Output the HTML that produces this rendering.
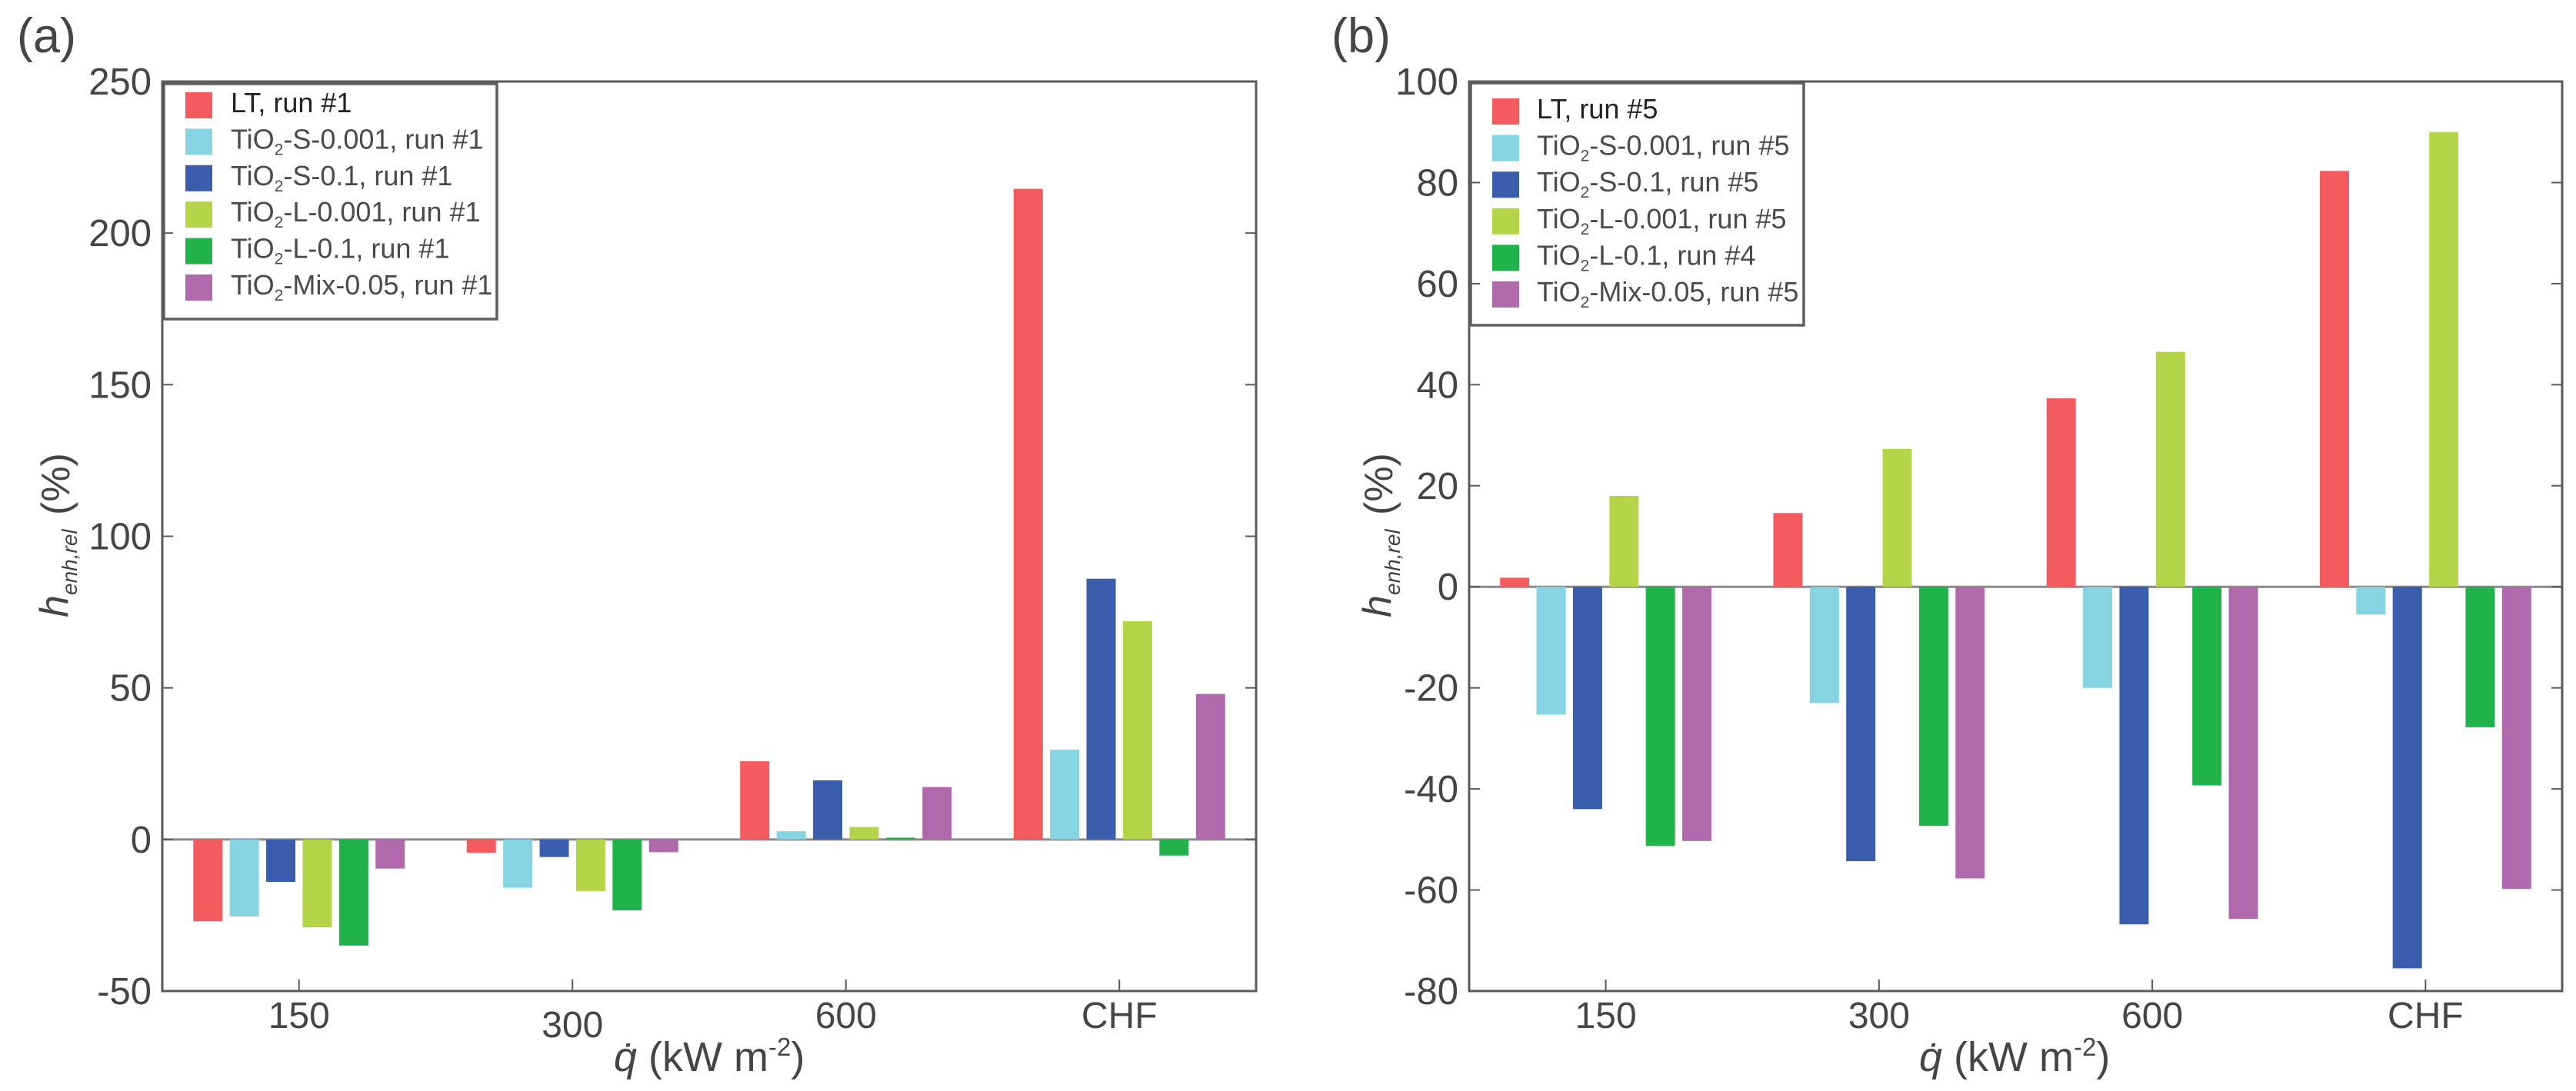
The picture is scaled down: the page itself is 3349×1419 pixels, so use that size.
<!DOCTYPE html>
<html lang="en">
<head>
<meta charset="utf-8">
<title>Relative heat transfer enhancement charts</title>
<style>
html,body{margin:0;padding:0;background:#fff;}
body{width:3349px;height:1419px;overflow:hidden;}
svg{display:block;font-family:"Liberation Sans",sans-serif;}
</style>
</head>
<body>
<svg id="figure" xmlns="http://www.w3.org/2000/svg" width="3349" height="1419" viewBox="0 0 3349 1419"></svg>
<script>
const categories = ['150', '300', '600', 'CHF'];
const seriesColors = ['#f25c5f', '#86d3e2', '#3a5eab', '#b4d44a', '#22b24c', '#b06aab'];
const seriesKeys = ['lt', 'tio2-s-0001', 'tio2-s-01', 'tio2-l-0001', 'tio2-l-01', 'tio2-mix-005'];

const panelATicks = [250, 200, 150, 100, 50, 0, -50];
const panelALegend = ['LT, run #1', '-S-0.001, run #1', '-S-0.1, run #1', '-L-0.001, run #1', '-L-0.1, run #1', '-Mix-0.05, run #1'];
const panelA_LT = [-27.0, -4.4, 25.8, 214.6];
const panelA_S0001 = [-25.4, -15.9, 2.7, 29.6];
const panelA_S01 = [-14.0, -5.8, 19.5, 86.0];
const panelA_L0001 = [-29.0, -17.0, 4.1, 72.0];
const panelA_L01 = [-35.0, -23.4, 0.6, -5.3];
const panelA_Mix = [-9.6, -4.2, 17.3, 48.0];

const panelBTicks = [100, 80, 60, 40, 20, 0, -20, -40, -60, -80];
const panelBLegend = ['LT, run #5', '-S-0.001, run #5', '-S-0.1, run #5', '-L-0.001, run #5', '-L-0.1, run #4', '-Mix-0.05, run #5'];
const panelB_LT = [1.8, 14.6, 37.3, 82.3];
const panelB_S0001 = [-25.3, -23.0, -20.0, -5.5];
const panelB_S01 = [-44.0, -54.3, -66.8, -75.5];
const panelB_L0001 = [18.0, 27.3, 46.5, 90.0];
const panelB_L01 = [-51.3, -47.3, -39.3, -27.8];
const panelB_Mix = [-50.3, -57.7, -65.7, -59.8];

const svg = document.getElementById('figure');
const NS = 'http://www.w3.org/2000/svg';

function make(tag, attrs, parent) {
  const el = document.createElementNS(NS, tag);
  for (const k in attrs) el.setAttribute(k, attrs[k]);
  parent.appendChild(el);
  return el;
}

function drawPanel(p) {
  const g = make('g', {}, svg);
  
  

  const ticks = p.ticks;
  const yMax = Math.max.apply(null, ticks);
  const yMin = Math.min.apply(null, ticks);
  const top = 106, bottom = 1289;
  const y = function (v) { return bottom - (v - yMin) / (yMax - yMin) * (bottom - top); };
  const groupW = (p.right - p.left) / categories.length;
  const xc = function (i) { return p.left + groupW * (i + 0.5); };
  const barPitch = groupW / 7.5;
  const barW = 38;

  // panel letter
  const letter = make('text', {x: p.letterX, y: 68, 'font-size': 63, fill: '#454545'}, g);
  letter.textContent = '(' + p.id + ')';
  
  

  // legend box
  const box = make('rect', {x: p.legend.x, y: p.legend.y, width: p.legend.w, height: p.legend.h, fill: '#fff', stroke: '#5e5e5e', 'stroke-width': 3.5}, g);
  
  

  // zero line
  const zero = make('line', {x1: p.left, x2: p.right, y1: y(0), y2: y(0), stroke: '#8a8a8a', 'stroke-width': 3}, g);
  
  

  // bars
  p.series.forEach(function (vals, s) {
    vals.forEach(function (v, i) {
      const x = xc(i) + (s - 2.5) * barPitch - barW / 2;
      const y0 = y(0), y1 = y(v);
      const bar = make('rect', {x: x, y: Math.min(y0, y1), width: barW, height: Math.abs(y1 - y0), fill: seriesColors[s]}, g);
      
      
    });
  });

  // axes frame
  const frame = make('rect', {x: p.left, y: top, width: p.right - p.left, height: bottom - top, fill: 'none', stroke: '#5a5a5a', 'stroke-width': 3}, g);
  
  

  // y ticks and labels
  ticks.forEach(function (t) {
    if (t !== yMax && t !== yMin) {
      const tl = make('line', {x1: p.left, x2: p.left + 14, y1: y(t), y2: y(t), stroke: '#5a5a5a', 'stroke-width': 2}, g);
      
      
      const tr = make('line', {x1: p.right - 14, x2: p.right, y1: y(t), y2: y(t), stroke: '#5a5a5a', 'stroke-width': 2}, g);
      
      
    }
    const lab = make('text', {x: p.left - 14, y: y(t) + 17, 'font-size': 49, fill: '#454545', 'text-anchor': 'end'}, g);
    lab.textContent = String(t);
    
    
  });

  // x ticks and labels
  categories.forEach(function (c, i) {
    const tk = make('line', {x1: xc(i), x2: xc(i), y1: bottom - 15, y2: bottom, stroke: '#5a5a5a', 'stroke-width': 2}, g);
    
    
    const lab = make('text', {x: xc(i), y: 1337 + (p.xLabelDrop[i] || 0), 'font-size': 48, fill: '#454545', 'text-anchor': 'middle'}, g);
    lab.textContent = c;
    
    
  });

  // x axis title
  const xt = make('text', {x: p.xTitleX, y: 1393, 'font-size': 54, fill: '#454545'}, g);
  
  
  const xq = make('tspan', {'font-style': 'italic'}, xt);
  xq.textContent = 'q\u0307';
  const xu = make('tspan', {}, xt);
  xu.textContent = ' (kW m';
  const xs = make('tspan', {'font-size': 33, dy: -20}, xt);
  xs.textContent = '-2';
  const xe = make('tspan', {dy: 20}, xt);
  xe.textContent = ')';

  // y axis title
  const yt = make('g', {transform: 'translate(' + p.yTitleX + ',803) rotate(-90)', fill: '#454545'}, g);
  
  
  const yh = make('text', {x: 0, y: 0, 'font-size': 52, 'font-style': 'italic'}, yt);
  yh.textContent = 'h';
  const ysub = make('text', {x: 29, y: 12, 'font-size': 28, 'font-style': 'italic'}, yt);
  ysub.textContent = 'enh,rel';
  const ypc = make('text', {x: 133, y: 2, 'font-size': 52}, yt);
  ypc.textContent = '(%)';

  // legend entries
  p.legendLabels.forEach(function (label, s) {
    const item = make('g', {}, g);
    
    
    const row = p.legend.rowY + s * p.legend.rowH;
    make('rect', {x: p.legend.swX, y: row, width: 35, height: 34, fill: seriesColors[s]}, item);
    const t = make('text', {x: p.legend.textX, y: row + 26, 'font-size': 36, fill: s === 0 ? '#222' : '#4a4a4a'}, item);
    if (s === 0) {
      t.textContent = label;
    } else {
      const a = make('tspan', {}, t);
      a.textContent = 'TiO';
      const b = make('tspan', {'font-size': 21, dy: 8}, t);
      b.textContent = '2';
      const c = make('tspan', {dy: -8}, t);
      c.textContent = label;
    }
  });
}

drawPanel({
  id: 'a', left: 211, right: 1633, letterX: 22, xTitleX: 798, yTitleX: 88,
  ticks: panelATicks, legendLabels: panelALegend, xLabelDrop: [0, 12, 0, 0],
  series: [panelA_LT, panelA_S0001, panelA_S01, panelA_L0001, panelA_L01, panelA_Mix],
  legend: {x: 213, y: 109, w: 433, h: 306, swX: 241, textX: 300, rowY: 120, rowH: 47.4}
});
drawPanel({
  id: 'b', left: 1910, right: 3331, letterX: 1731, xTitleX: 2495, yTitleX: 1808,
  ticks: panelBTicks, legendLabels: panelBLegend, xLabelDrop: [0, 0, 0, 0],
  series: [panelB_LT, panelB_S0001, panelB_S01, panelB_L0001, panelB_L01, panelB_Mix],
  legend: {x: 1912, y: 108, w: 433, h: 315, swX: 1940, textX: 1998, rowY: 128, rowH: 47.6}
});

const mask = make('rect', {x: 0, y: 1404, width: 3349, height: 15, fill: '#fff'}, svg);


</script>
</body>
</html>
